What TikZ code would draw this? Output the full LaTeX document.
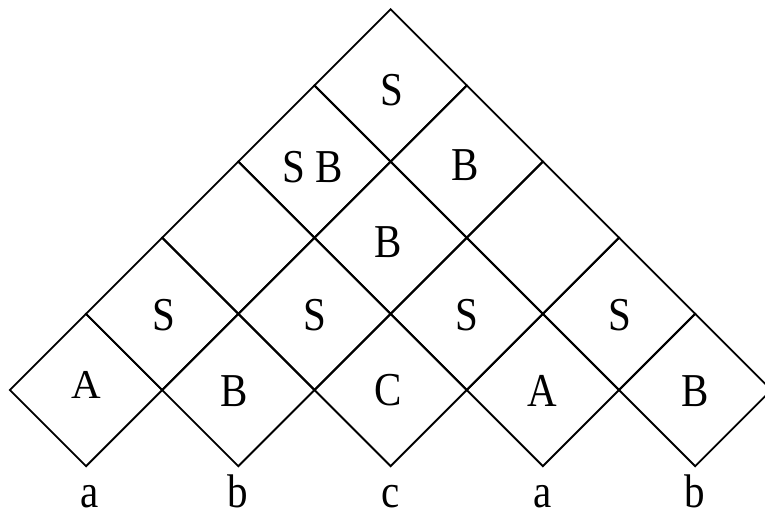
\documentclass[tikz,border=0pt]{standalone}
\usepackage{fontspec}
\setmainfont{Liberation Serif}
\newcommand\tallt[1]{\scalebox{1}[1.15]{#1}}
\begin{document}
\begin{tikzpicture}[x=1pt,y=-1pt,
  cell/.style={draw=black, line width=1.9pt, line join=miter},
  lbl/.style={inner sep=0pt, font=\fontsize{41}{48}\selectfont},
  word/.style={inner sep=0pt, anchor=base, font=\fontsize{41}{48}\selectfont}]
\useasboundingbox (0,0) rectangle (765,514);
\def\s{76.15}
\foreach \r in {0,...,4}{
  \pgfmathsetmacro\n{4-\r}
  \foreach \i in {0,...,\n}{
    \pgfmathsetmacro\cx{86+\s*\r+2*\s*\i}
    \pgfmathsetmacro\cy{390-\s*\r}
    \draw[cell] (\cx-\s,\cy) -- (\cx,\cy-\s) -- (\cx+\s,\cy) -- (\cx,\cy+\s) -- cycle;
  }
}
% row 1
\node[lbl] (c11) at (86,385) {A};
\node[lbl] (c12) at (234,391) {\tallt{B}};
\node[lbl] (c13) at (388,390) {\tallt{C}};
\node[lbl] (c14) at (542,391) {\tallt{A}};
\node[lbl] (c15) at (695,391) {\tallt{B}};
% row 2
\node[lbl] (c21) at (164,315) {\tallt{S}};
\node[lbl] (c22) at (315,315) {\tallt{S}};
\node[lbl] (c23) at (467,315) {\tallt{S}};
\node[lbl] (c24) at (620,315) {\tallt{S}};
% row 3
\node[lbl] (c32) at (388,242) {\tallt{B}};
% row 4
\node[lbl] (c41) at (313,167) {\tallt{S B}};
\node[lbl] (c42) at (465,165) {\tallt{B}};
% row 5
\node[lbl] (c51) at (392,90) {\tallt{S}};
% words
\node[word] (w1) at (90,507) {\tallt{a}};
\node[word] (w2) at (238,507) {\tallt{b}};
\node[word] (w3) at (391,507) {\tallt{c}};
\node[word] (w4) at (543,507) {\tallt{a}};
\node[word] (w5) at (695,507) {\tallt{b}};
\end{tikzpicture}
\end{document}
